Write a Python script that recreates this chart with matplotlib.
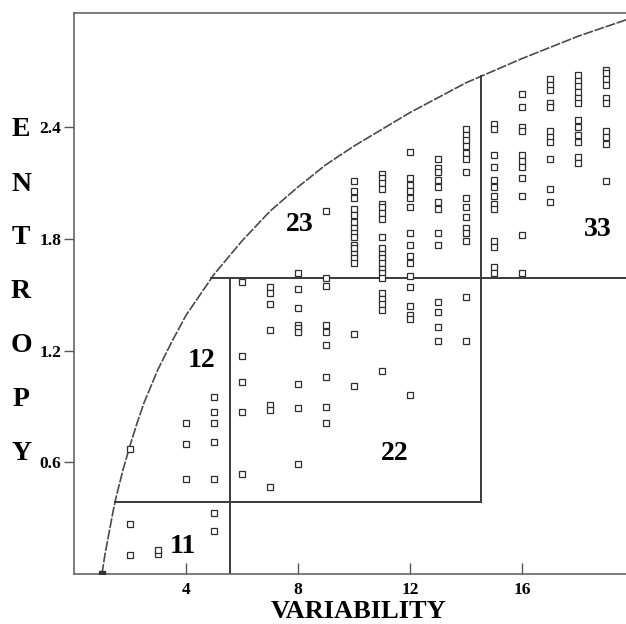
import numpy as np
import matplotlib.pyplot as plt

# ---- data ----
# maximum entropy curve (read point by point)
curve_x = [1, 1.1, 1.25, 1.4, 1.5, 1.75, 2, 2.25, 2.5, 2.75, 3, 3.5, 4, 4.5, 5, 6, 7, 8, 9, 10,
           12, 14, 16, 18, 19.75]
curve_y = [0, 0.10, 0.22, 0.34, 0.41, 0.56, 0.69, 0.81, 0.92, 1.01, 1.10, 1.25, 1.39, 1.50, 1.61,
           1.79, 1.95, 2.08, 2.20, 2.30, 2.48, 2.64, 2.77, 2.89, 2.98]

# entropy values of the samples, grouped by variability
ent_v2 = [0.67, 0.27, 0.10]
ent_v3 = [0.11, 0.13]
ent_v4 = [0.81, 0.70, 0.51]
ent_v5 = [0.95, 0.87, 0.81, 0.71, 0.51, 0.33, 0.23]
ent_v6 = [1.57, 1.17, 1.03, 0.87, 0.54]
ent_v7 = [1.54, 1.51, 1.45, 1.31, 0.91, 0.88, 0.47]
ent_v8 = [1.62, 1.53, 1.43, 1.34, 1.32, 1.30, 1.02, 0.89, 0.59]
ent_v9 = [1.95, 1.59, 1.55, 1.34, 1.30, 1.23, 1.06, 0.90, 0.81]
ent_v10 = [2.11, 2.06, 2.02, 1.96, 1.93, 1.89, 1.86, 1.83, 1.81, 1.77, 1.75, 1.72, 1.70, 1.67,
           1.29, 1.01]
ent_v11 = [2.15, 2.13, 2.10, 2.07, 1.99, 1.97, 1.94, 1.91, 1.81, 1.75, 1.72, 1.70, 1.67, 1.64,
           1.62, 1.59, 1.51, 1.48, 1.45, 1.42, 1.09]
ent_v12 = [2.27, 2.13, 2.09, 2.06, 2.02, 1.97, 1.83, 1.77, 1.71, 1.67, 1.60, 1.54, 1.44, 1.39,
           1.37, 0.96]
ent_v13 = [2.23, 2.18, 2.16, 2.12, 2.08, 2.00, 1.96, 1.83, 1.77, 1.46, 1.41, 1.33, 1.25]
ent_v14 = [2.39, 2.36, 2.33, 2.30, 2.26, 2.23, 2.16, 2.02, 1.97, 1.92, 1.86, 1.83, 1.79, 1.49, 1.25]
ent_v15 = [2.42, 2.39, 2.25, 2.19, 2.12, 2.08, 2.03, 1.99, 1.96, 1.79, 1.76, 1.65, 1.62]
ent_v16 = [2.58, 2.51, 2.40, 2.38, 2.25, 2.22, 2.19, 2.13, 2.03, 1.82, 1.62]
ent_v17 = [2.66, 2.63, 2.60, 2.53, 2.51, 2.38, 2.35, 2.32, 2.23, 2.07, 2.00]
ent_v18 = [2.68, 2.65, 2.62, 2.59, 2.56, 2.53, 2.44, 2.40, 2.36, 2.32, 2.24, 2.21]
ent_v19 = [2.71, 2.69, 2.66, 2.63, 2.56, 2.53, 2.38, 2.35, 2.31, 2.11]

variability = list(range(2, 20))
entropy = [ent_v2, ent_v3, ent_v4, ent_v5, ent_v6, ent_v7, ent_v8, ent_v9, ent_v10, ent_v11,
           ent_v12, ent_v13, ent_v14, ent_v15, ent_v16, ent_v17, ent_v18, ent_v19]

# class boundaries
var_cuts = [5.57, 14.54]
ent_cuts = [0.387, 1.59]

region_names = ['11', '12', '22', '23', '33']
region_x = [3.9, 4.55, 11.45, 8.05, 18.7]
region_y = [0.15, 1.15, 0.65, 1.88, 1.85]

x_ticks = [4, 8, 12, 16]
y_ticks = [0.6, 1.2, 1.8, 2.4]

# ---- figure ----
W, H = 626, 624
fig = plt.figure(figsize=(W / 100, H / 100), dpi=100)
ax = fig.add_axes([74 / W, (H - 574) / H, 1 - 74 / W, (574 - 13) / H])
xmax = (W - 74) / 28.0
ax.set_xlim(0, xmax)
ax.set_ylim(0, 3.015)

serif = 'Liberation Serif'
dark = '#3a3a3a'

# max entropy curve
ax.plot(curve_x, curve_y, color='#4a4a4a', lw=1.2, linestyle=(0, (6, 1)), zorder=2)
ax.plot(curve_x[0], curve_y[0], 's', ms=4.5, color='#333333', zorder=4)

# class boxes
x_lo_start = np.interp(ent_cuts[0], curve_y, curve_x)
x_hi_start = np.interp(ent_cuts[1], curve_y, curve_x)
top_at_cut = np.interp(var_cuts[1], curve_x, curve_y)
ax.plot([x_lo_start, var_cuts[1]], [ent_cuts[0], ent_cuts[0]], color=dark, lw=1.4)
ax.plot([x_hi_start, xmax], [ent_cuts[1], ent_cuts[1]], color=dark, lw=1.4)
ax.plot([var_cuts[0], var_cuts[0]], [0, ent_cuts[1]], color=dark, lw=1.4)
ax.plot([var_cuts[1], var_cuts[1]], [ent_cuts[0], top_at_cut], color=dark, lw=1.4)

# samples
for v, ys in zip(variability, entropy):
    ax.plot([v] * len(ys), ys, 's', ms=4.0, mfc='white', mec='#2e2e2e', mew=0.9,
            linestyle='none', zorder=3)

for name, rx, ry in zip(region_names, region_x, region_y):
    ax.text(rx, ry, name, family=serif, weight='bold', fontsize=20,
            ha='center', va='center')

ax.set_xticks(x_ticks)
ax.set_xticklabels([str(t) for t in x_ticks])
ax.set_yticks(y_ticks)
ax.set_yticklabels([str(t) for t in y_ticks])
ax.tick_params(axis='x', direction='in', length=8, width=1, color='#555555', pad=6)
ax.tick_params(axis='y', direction='out', length=7, width=1, color='#555555', pad=2)
for lab in ax.get_xticklabels() + ax.get_yticklabels():
    lab.set_family(serif)
    lab.set_weight('bold')
    lab.set_fontsize(12.5)

for s in ['top', 'left', 'bottom']:
    ax.spines[s].set_color('#666666')
    ax.spines[s].set_linewidth(1.2)
ax.spines['right'].set_visible(False)

# vertical stacked axis title
for i, ch in enumerate('ENTROPY'):
    fig.text(21 / W, 1 - (130 + 54 * i) / H, ch, family=serif, weight='bold',
             fontsize=20, ha='center', va='center')
fig.text(359 / W, 1 - 612 / H, 'VARIABILITY', family=serif, weight='bold',
         fontsize=19, ha='center', va='center')

fig.savefig('out.png', dpi=100)
